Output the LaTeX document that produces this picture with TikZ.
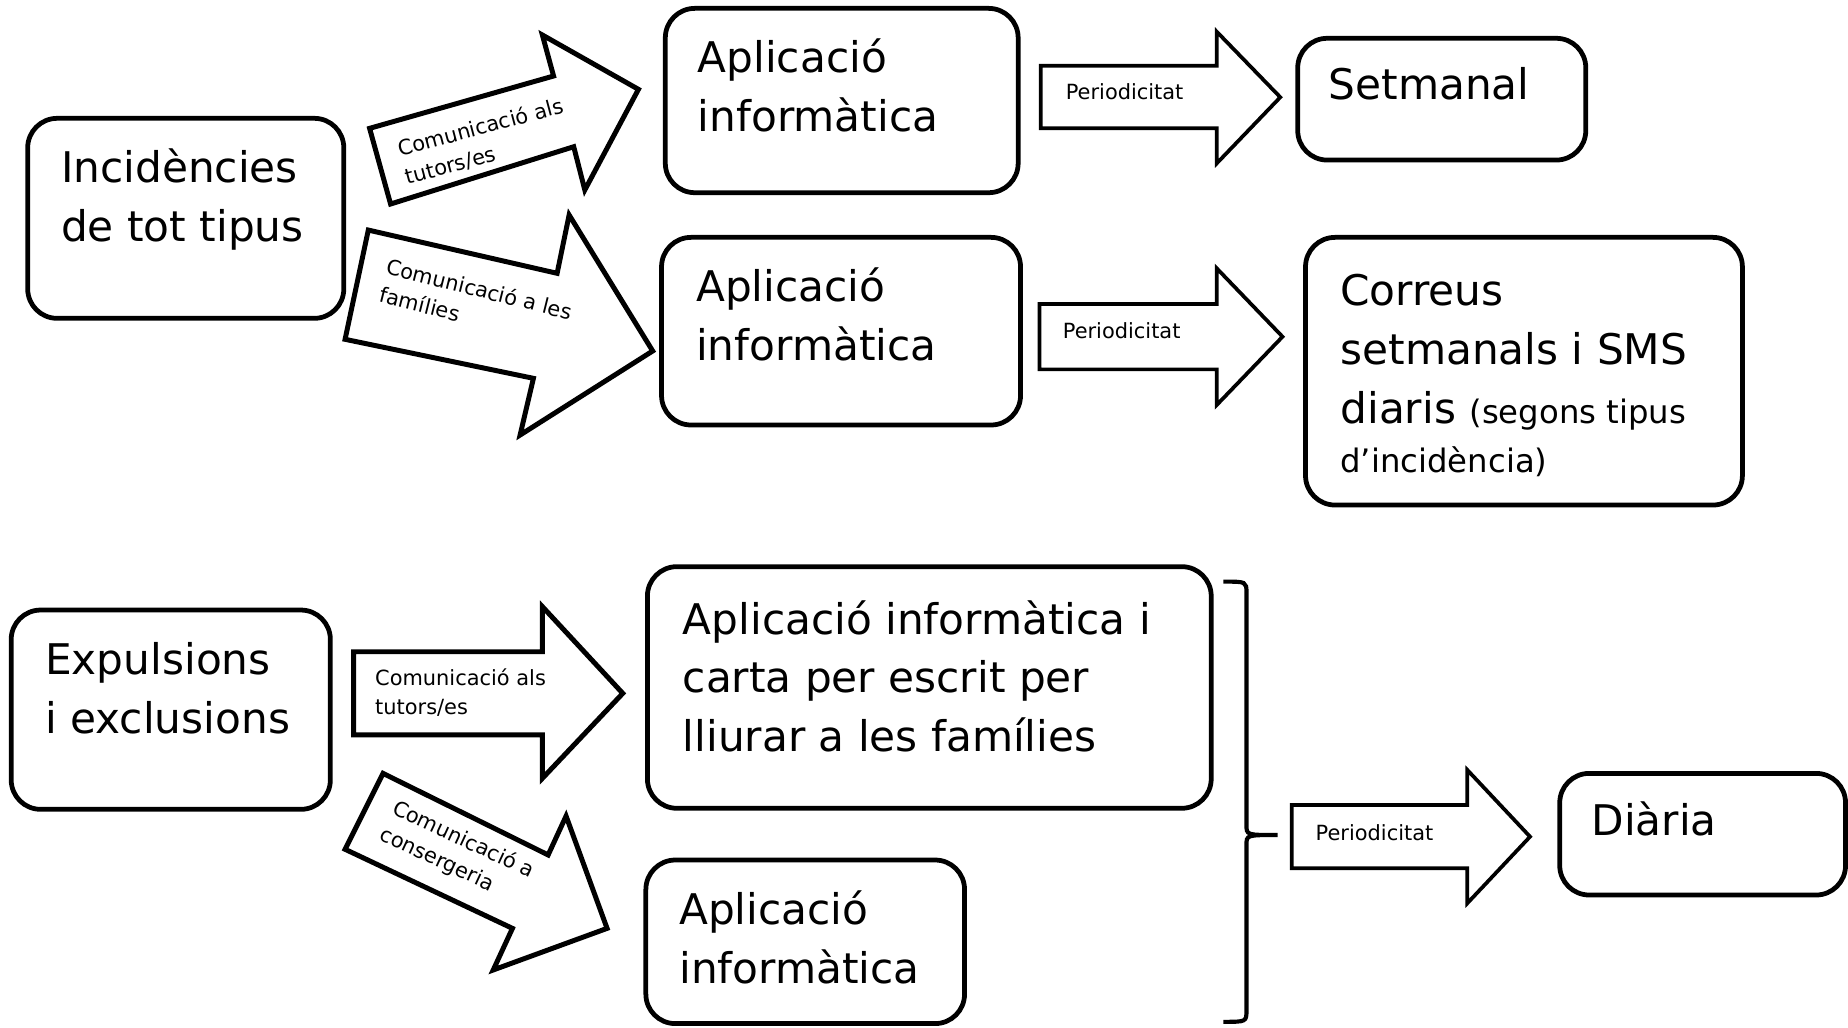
\documentclass[tikz,border=0pt]{standalone}
\usepackage{fontspec}
\setmainfont{DejaVu Sans}
\usetikzlibrary{fit}
\begin{document}
\begin{tikzpicture}[x=0.02cm,y=-0.02cm,
  box/.style={draw, line width=2.3pt, rounded corners=0.5cm, inner sep=0pt},
  big/.style={font=\fontsize{20.4}{28.4}\selectfont, inner sep=0pt, anchor=base west, align=left},
  mid/.style={font=\fontsize{15.6}{18}\selectfont, inner sep=0pt, anchor=base west},
  lbl/.style={font=\fontsize{10.1}{14}\selectfont, inner sep=0pt, align=left},
  blockarrow/.style={draw, line width=2.4pt, fill=white, line join=miter},
  perarrow/.style={draw, line width=1.8pt, fill=white, line join=miter},
  brace/.style={draw, line width=2pt}]
\useasboundingbox (0,0) rectangle (1568,872);

% ---------- boxes ----------
\node[box, fit={(23.5,100.4) (291.7,270.1)}] (inc) {};
\node[box, fit={(564.5,7.1) (863.9,163.5)}] (app1) {};
\node[box, fit={(1101.1,32.5) (1345.5,135.8)}] (set) {};
\node[box, fit={(561.3,201.4) (865.9,360.6)}] (app2) {};
\node[box, fit={(1107.7,201.4) (1478.4,428.5)}] (cor) {};
\node[box, fit={(9.5,517.6) (280.3,686.7)}] (exp) {};
\node[box, fit={(549.3,480.8) (1027.7,685.8)}] (appc) {};
\node[box, fit={(548,729.7) (818.4,868.5)}] (app4) {};
\node[box, fit={(1323.4,656.2) (1565.9,759.4)}] (dia) {};

% ---------- box texts (anchor = baseline of last line) ----------
\node[big] (incT) at (51.5,205) {Incidències\\de tot tipus};
\node[big] (app1T) at (591.7,111.7) {Aplicació\\informàtica};
\node[big] (setT) at (1127,84.3) {Setmanal};
\node[big] (app2T) at (590.4,305.5) {Aplicació\\informàtica};
\node[big] (corT) at (1137,359.2) {Correus\\setmanals i SMS\\diaris {\fontsize{15.6}{18}\selectfont (segons tipus}};
\node[mid] (corT2) at (1137,401) {d’incidència)};
\node[big] (expT) at (38,622.2) {Expulsions\\i exclusions};
\node[big] (appcT) at (579,637.8) {Aplicació informàtica i\\carta per escrit per\\lliurar a les famílies};
\node[big] (app4T) at (576,834.3) {Aplicació\\informàtica};
\node[big] (diaT) at (1350,708.5) {Diària};

% ---------- block arrows ----------
\draw[blockarrow] (331.4,173.1) -- (313.6,108.9) -- (469.7,64.5) -- (460.2,29.7)
  -- (541.7,75.8) -- (496.2,161.2) -- (486.8,124.5) -- cycle;
\node[lbl, rotate=15] (l1) at (411,120) {Comunicació als\\tutors/es};

\draw[blockarrow] (312.5,195.2) -- (292.8,287.9) -- (452.6,321) -- (441.3,369.1)
  -- (553.8,297.8) -- (482.9,182.4) -- (472.7,231.9) -- cycle;
\node[lbl, rotate=-14] (l2) at (404,257) {Comunicació a les\\famílies};

\draw[perarrow] (883,55.7) -- (1032.4,55.7) -- (1032.4,26.9) -- (1086.3,82.5)
  -- (1032.4,138.6) -- (1032.4,108.9) -- (883,108.9) -- cycle;
\node[lbl, anchor=base west] (p1) at (904,84) {Periodicitat};

\draw[perarrow] (882,258) -- (1032.4,258) -- (1032.4,227.7) -- (1088.2,285.7)
  -- (1032.4,343.6) -- (1032.4,313.4) -- (882,313.4) -- cycle;
\node[lbl, anchor=base west] (p2) at (901.5,287) {Periodicitat};

\draw[blockarrow] (300,553) -- (460.2,553) -- (460.2,514.7) -- (528.4,588.3)
  -- (460.2,660.4) -- (460.2,623.6) -- (300,623.6) -- cycle;
\node[lbl, anchor=base west] (l5) at (318,606.5) {Comunicació als\\tutors/es};

\draw[blockarrow] (325,656.2) -- (292.8,720.6) -- (434.8,787.7) -- (418.5,823)
  -- (515.1,787.7) -- (480.3,692.4) -- (465.1,725.4) -- cycle;
\node[lbl, rotate=-25] (l6) at (388,724) {Comunicació a\\consergeria};

\draw[perarrow] (1096.1,683) -- (1245,683) -- (1245,653.3) -- (1298.2,709.9)
  -- (1245,766.4) -- (1245,736.7) -- (1096.1,736.7) -- cycle;
\node[lbl, anchor=base west] (p3) at (1116,713) {Periodicitat};

% ---------- brace ----------
\draw[brace] (1038,493.5) .. controls (1057.6,493.5) .. (1057.6,503)
  -- (1057.6,700) .. controls (1057.6,708.5) .. (1084,708.5)
  .. controls (1057.6,708.5) .. (1057.6,717)
  -- (1057.6,857) .. controls (1057.6,867) .. (1038,867);
\end{tikzpicture}
\end{document}
